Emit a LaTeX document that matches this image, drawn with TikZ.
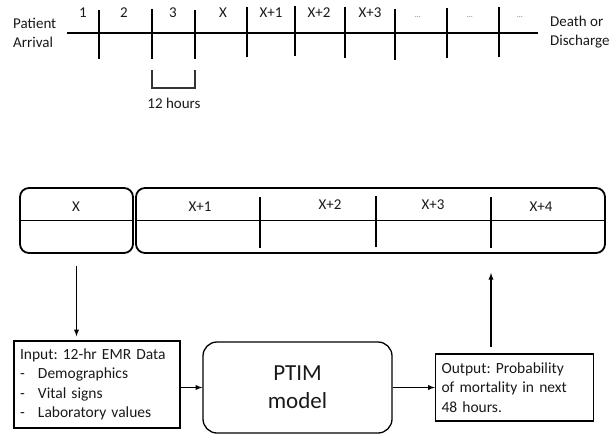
\documentclass[tikz,border=0pt]{standalone}
\usepackage{fontspec}
\setmainfont{Carlito}
\usetikzlibrary{positioning}
\frenchspacing

\begin{document}
\begin{tikzpicture}[
        x=1pt, y=-1pt,
        every node/.style={font=\fontsize{15}{19}\selectfont, text=black!90, inner sep=0pt},
        axis/.style={line width=2.7pt},
        tick/.style={line width=2.5pt},
        dots/.style={font=\fontsize{8}{8}\selectfont, text=black!55},
        slot/.style={draw, line width=1.8pt, rounded corners=9pt},
        box/.style={draw, line width=1.3pt, align=left, inner xsep=6pt, font=\fontsize{15.5}{19.3}\selectfont},
        model/.style={draw, line width=1.3pt, rounded corners=14pt, align=center, font=\fontsize{23}{28}\selectfont},
        >=latex
    ]
    \useasboundingbox (0,0) rectangle (613,434);

    % timeline
    \draw[axis] (67,33) -- (538,33);
    \draw[tick] (99,10) -- (99,59);
    \draw[tick] (152,9) -- (152,59);
    \draw[tick] (195,10) -- (195,59);
    \draw[tick] (247,7) -- (247,57);
    \draw[tick] (295,6) -- (295,56);
    \draw[tick] (345,7) -- (345,58);
    \draw[tick] (395,9) -- (395,60);
    \draw[tick] (447,8) -- (447,58);
    \draw[tick] (499,7) -- (499,57);

    \node[align=left, anchor=west] (arrival) at (13,32.5) {Patient\\Arrival};
    \node[align=left, anchor=west] (discharge) at (550,32.5) {Death or\\Discharge};
    \node (n1) at (83,13) {1};
    \node (n2) at (124,13) {2};
    \node (n3) at (173,13) {3};
    \node (nx) at (223,13) {X};
    \node (nx1) at (271,13) {X+1};
    \node (nx2) at (319,13) {X+2};
    \node (nx3) at (370,13) {X+3};
    \node[dots] (dots1) at (418,17) {\ldots};
    \node[dots] (dots2) at (470,17) {\ldots};
    \node[dots] (dots3) at (520,17) {\ldots};

    % 12 hour bracket
    \draw[line width=1.3pt, black!80] (152,70) -- (152,88) -- (195,88) -- (195,70);
    \node (hours) at (174,103) {12 hours};

    % sliding window
    \node[slot, minimum width=113pt, minimum height=65pt] (slotx) at (76.5,220.5) {};
    \node[slot, minimum width=469pt, minimum height=65pt] (slots) at (370.5,220.5) {};
    \draw[line width=1.8pt] (slotx.west) -- (slotx.east);
    \draw[line width=1.8pt] (slots.west) -- (slots.east);
    \coordinate (d1) at (260,197);
    \coordinate (d2) at (376,196);
    \coordinate (d3) at (491,197);
    \draw[line width=1.8pt] (d1) -- ++(0,51);
    \draw[line width=1.8pt] (d2) -- ++(0,51);
    \draw[line width=1.8pt] (d3) -- ++(0,51);
    \node (lx) at (76,207) {X};
    \node (lx1) at (200,207) {X+1};
    \node (lx2) at (330,205) {X+2};
    \node (lx3) at (433,205) {X+3};
    \node (lx4) at (541,207) {X+4};

    % model pipeline
    \node[box, minimum width=166pt, minimum height=87pt, text width=154pt] (input) at (97,384.5)
        {Input: 12-hr EMR Data\\
         \makebox[18pt][l]{-}Demographics\\
         \makebox[18pt][l]{-}Vital signs\\
         \makebox[18pt][l]{-}Laboratory values};
    \node[model, minimum width=189pt, minimum height=91pt] (ptim) at (297.5,387.5) {PTIM\\model};
    \node[box, minimum width=157pt, minimum height=67pt, text width=146pt] (output) at (514.5,387.5)
        {Output: Probability\\of mortality in next\\48 hours.};

    \draw[->, line width=1.3pt] ([yshift=-12pt]slotx.south) -- ([yshift=4pt]slotx.south |- input.north);
    \draw[->, line width=1.3pt] (input.east |- ptim.west) -- (ptim.west);
    \draw[->, line width=1.3pt] (ptim.east) -- (output.west);
    \draw[->, line width=1.3pt] ([yshift=6pt]output.north -| d3) -- ([yshift=-19pt]slots.south -| d3);
\end{tikzpicture}
\end{document}
